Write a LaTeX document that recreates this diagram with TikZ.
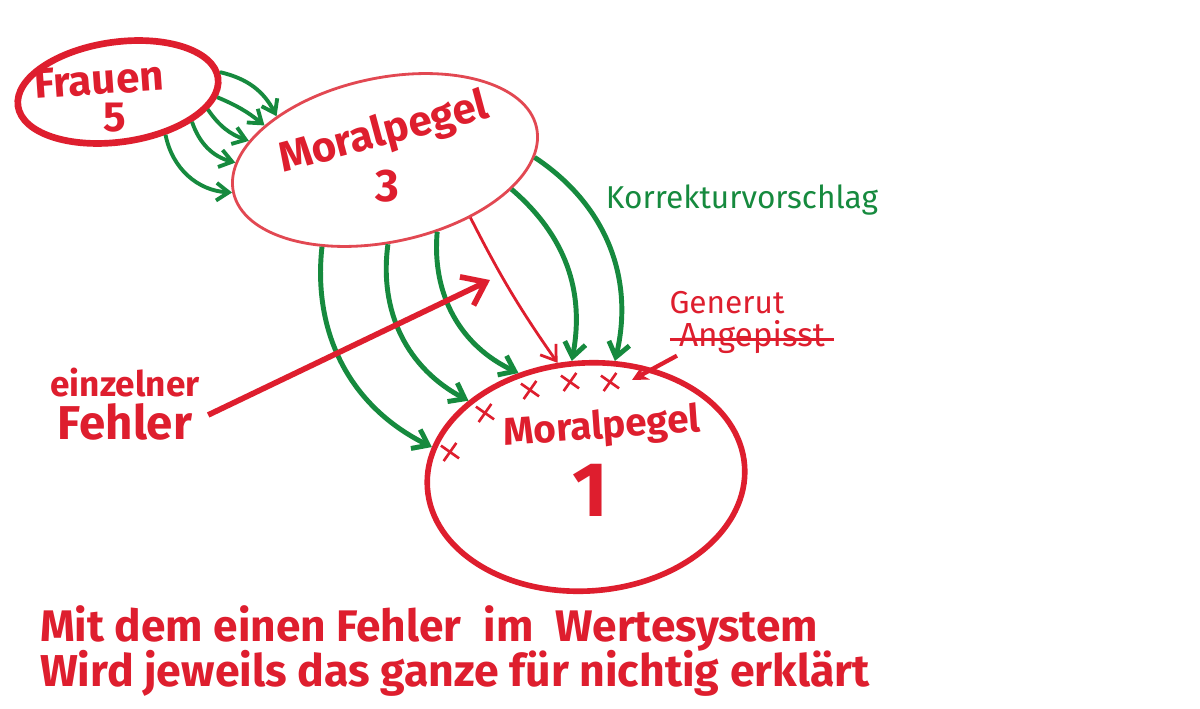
\documentclass[tikz,border=0pt]{standalone}
\usepackage{fontspec}
\usepackage{graphicx}
\setmainfont{Fira Sans}
\usetikzlibrary{shapes.geometric,shapes.misc,arrows.meta}
\definecolor{mred}{RGB}{222,30,46}
\definecolor{mlred}{RGB}{226,72,82}
\definecolor{mgreen}{RGB}{22,138,62}
\newcommand{\fsz}[1]{\fontsize{#1}{#1}\selectfont}
\tikzset{
  ell/.style={ellipse, draw=mred, inner sep=0pt},
  garrow/.style={draw=mgreen, line width=2.8pt, -{Straight Barb[length=8pt,width=12pt]}},
  gsmall/.style={draw=mgreen, line width=2.2pt, -{Straight Barb[length=7pt,width=10pt]}},
  redthin/.style={draw=mred, line width=1.6pt, -{Straight Barb[length=8pt,width=11pt]}},
  lbl/.style={text=mred, inner sep=1pt},
  xmark/.style={cross out, draw=mred, line width=1.5pt, minimum size=0.26cm, inner sep=0pt},
}
\begin{document}
\begin{tikzpicture}[x=0.02cm,y=0.02cm]
\useasboundingbox (0,0) rectangle (1200,708);
\fill[white] (0,0) rectangle (1200,708);

% ellipses
\node[ell, line width=3.8pt, minimum width=4.04cm, minimum height=2.0cm, rotate=8] (fr) at (118,616) {};
\node[ell, draw=mlred, line width=1.6pt, minimum width=6.2cm, minimum height=3.28cm, rotate=12] (m3) at (385,548) {};
\node[ell, line width=3.2pt, minimum width=6.36cm, minimum height=4.56cm, rotate=4] (m1) at (586,231) {};

% texts in ellipses
\node[lbl, rotate=4] (frt) at (99,628) {\fsz{24}\bfseries Frauen};
\node[lbl] (frn) at (115,590) {\fsz{24}\bfseries 5};
\node[lbl, rotate=15] (m3t) at (384,574) {\fsz{24}\bfseries Moralpegel};
\node[lbl] (m3n) at (387,522) {\fsz{26}\bfseries 3};
\node[lbl, rotate=4] (m1t) at (602,280) {\fsz{22}\bfseries Moralpegel};
\node[lbl] (m1n) at (590,218) {\fsz{44}\bfseries 1};

% other labels
\node[text=mgreen, inner sep=1pt] (kor) at (742,508) {\fsz{18}Korrekturvorschlag};
\node[lbl] (gen) at (727,405) {\fsz{18}Generut};
\node[lbl] (ang) at (752,371) {\fsz{19}Angepisst};
\draw[mred, line width=1.8pt] ([xshift=-4pt,yshift=-1.2pt]ang.west) -- ([xshift=4pt,yshift=-1.2pt]ang.east);
\node[lbl] (ein) at (125,325) {\fsz{20}\bfseries einzelner};
\node[lbl] (feh) at (125,286) {\fsz{27}\bfseries Fehler};
\node[lbl] (l1) at (429,80) {\resizebox{15.56cm}{!}{\fsz{24}\bfseries Mit dem einen Fehler\enspace im\enspace Wertesystem}};
\node[lbl] (l2) at (455,35) {\resizebox{16.6cm}{!}{\fsz{24}\bfseries Wird jeweils das ganze für nichtig erklärt}};

% x marks
\node[xmark, rotate=10] (x1) at (450,256) {};
\node[xmark, rotate=10] (x2) at (485,295) {};
\node[xmark, rotate=10] (x3) at (530,318) {};
\node[xmark, rotate=10] (x4) at (570,326) {};
\node[xmark, rotate=10] (x5) at (610,326) {};

% Frauen -> Moralpegel 3
\draw[gsmall] (fr.3) to[bend left=25] (m3.146);
\draw[gsmall] (fr.-11) to[bend left=8] (m3.152);
\draw[gsmall] (fr.-19) to[bend right=18] (m3.160);
\draw[gsmall] (fr.-30) to[bend right=28] (m3.169);
\draw[gsmall] (fr.-50) to[bend right=38] (m3.180);

% Moralpegel 3 -> Moralpegel 1
\draw[garrow] (m3.222) to[bend right=35] (m1.165);
\draw[garrow] (m3.260) to[bend right=35] (m1.143);
\draw[garrow] (m3.-66) to[bend right=35] (m1.119);
\draw[redthin] (m3.-46) to[bend right=4] (m1.100);
\draw[garrow] (m3.-25) to[bend left=30] (m1.93);
\draw[garrow] (m3.-11) to[bend left=35] (m1.72);

% einzelner Fehler arrow
\coordinate (eftip) at (490,428);
\draw[mred, line width=3.2pt, -{Straight Barb[length=12pt,width=18pt]}] ([xshift=8pt,yshift=4pt]feh.east) -- (eftip);

% Generut arrow
\coordinate (gtip) at (632,328);
\draw[mred, line width=2.4pt, -{Stealth[length=9pt,width=9pt]}] (ang.south west) -- (gtip);
\end{tikzpicture}
\end{document}
